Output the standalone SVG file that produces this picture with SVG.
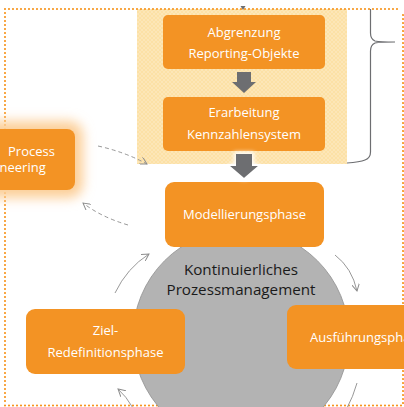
<svg xmlns="http://www.w3.org/2000/svg" width="404" height="407" viewBox="0 0 404 407">
<defs>
<style>
.box{fill:#F39324}
.lbl{font-family:"Open Sans","Noto Sans",sans-serif;font-size:13px;fill:#ffffff;text-anchor:middle}
.ctr{font-family:"Open Sans","Noto Sans",sans-serif;font-size:15.2px;fill:#1a1a1a;text-anchor:middle}
.dot{fill:none;stroke:#F7941D;stroke-width:2.2;stroke-linecap:round;stroke-dasharray:0 4}
.con{fill:none;stroke:#8C8C8C;stroke-width:0.9}
.dash{stroke-dasharray:4 3}
.blk{fill:#6D6E71}
</style>
<pattern id="hatch" width="4" height="4" patternUnits="userSpaceOnUse">
<rect width="4" height="4" fill="#FCE1A6"/>
<path d="M0,4 L4,0 M0,0 L4,4" stroke="#FDEAC2" stroke-width="0.6"/>
</pattern>
<marker id="arr" viewBox="0 0 10 10" refX="9" refY="5" markerWidth="8" markerHeight="8" markerUnits="userSpaceOnUse" orient="auto">
<path d="M0,0 L9,5 L0,10" fill="none" stroke="#8C8C8C" stroke-width="1.2"/>
</marker>
<filter id="glow" x="-40%" y="-40%" width="180%" height="180%">
<feGaussianBlur stdDeviation="6"/>
</filter>
<filter id="wglow" x="-50%" y="-50%" width="200%" height="200%">
<feMorphology in="SourceAlpha" operator="dilate" radius="2" result="d"/>
<feGaussianBlur in="d" stdDeviation="2" result="b"/>
<feFlood flood-color="#ffffff"/>
<feComposite in2="b" operator="in" result="w"/>
<feMerge><feMergeNode in="w"/><feMergeNode in="SourceGraphic"/></feMerge>
</filter>
</defs>

<g id="frame">
<rect x="137" y="9" width="210" height="155" fill="url(#hatch)"/>
<path class="dot" d="M5,9 H398 M403,15 V405 M5,9 V405 M5,405.5 H403"/>
<path d="M370.5,9 V33 Q370.5,39 375,41 Q380,42 395,42 Q380,42 375,43 Q370.5,45 370.5,51 V152 Q370.5,158 365,160 Q360,162 347,163" fill="none" stroke="#6D6E71" stroke-width="1.2"/>
</g>

<g id="circle">
<circle cx="241" cy="337" r="108" fill="#B3B3B3" stroke="#8F8F8F" stroke-width="0.8"/>
<text class="ctr" x="241" y="274.5">Kontinuierliches</text>
<text class="ctr" x="241" y="294.5">Prozessmanagement</text>
</g>

<g id="process-engineering">
<rect x="-22" y="121" width="105" height="77" rx="14" fill="#FCCF98" filter="url(#glow)"/>
<rect class="box" x="-10" y="129" width="85" height="61" rx="8"/>
<text class="lbl" x="8" y="156" style="text-anchor:start">Process</text>
<text class="lbl" x="-0.5" y="172" style="text-anchor:start">neering</text>
</g>

<g id="abgrenzung">
<rect class="box" x="163" y="15" width="162" height="54" rx="5"/>
<text class="lbl" x="244" y="36.5">Abgrenzung</text>
<text class="lbl" x="244" y="57.5">Reporting-Objekte</text>
</g>

<g id="erarbeitung">
<rect class="box" x="163" y="97" width="162" height="54" rx="5"/>
<text class="lbl" x="244" y="116.5">Erarbeitung</text>
<text class="lbl" x="244" y="138.5">Kennzahlensystem</text>
</g>

<g id="modellierung">
<rect class="box" x="165" y="182" width="159" height="65" rx="9"/>
<text class="lbl" x="244.5" y="218.5">Modellierungsphase</text>
</g>

<g id="ziel">
<rect class="box" x="26" y="309" width="159" height="65" rx="9"/>
<text class="lbl" x="105.5" y="334.5">Ziel-</text>
<text class="lbl" x="105.5" y="356.5">Redefinitionsphase</text>
</g>

<g id="ausfuehrung">
<rect class="box" x="287" y="305" width="130" height="64" rx="9"/>
<text class="lbl" x="310" y="341.5" style="text-anchor:start">Ausführungsphase</text>
</g>

<g id="connectors">
<polygon class="blk" points="240.5,6 245.5,6 243,10"/>
<polygon class="blk" points="237,72 251,72 251,82 256,82 244,93 232,82 237,82"/>
<polygon class="blk" points="236,154 252,154 252,166 258,166 244,178 230,166 236,166" filter="url(#wglow)"/>
<path class="con dash" d="M98,146 Q125,152 147,164" marker-end="url(#arr)"/>
<path class="con dash" d="M128,225 Q101,217 83,203" marker-end="url(#arr)"/>
<path class="con" d="M115,293 Q127,268 149,254" marker-end="url(#arr)"/>
<path class="con" d="M335,255 Q352,268 357,291" marker-end="url(#arr)"/>
<path class="con" d="M357,383 Q353,397 347,408"/>
<path class="con" d="M133,408 Q126,396 118,389" marker-end="url(#arr)"/>
</g>
</svg>
